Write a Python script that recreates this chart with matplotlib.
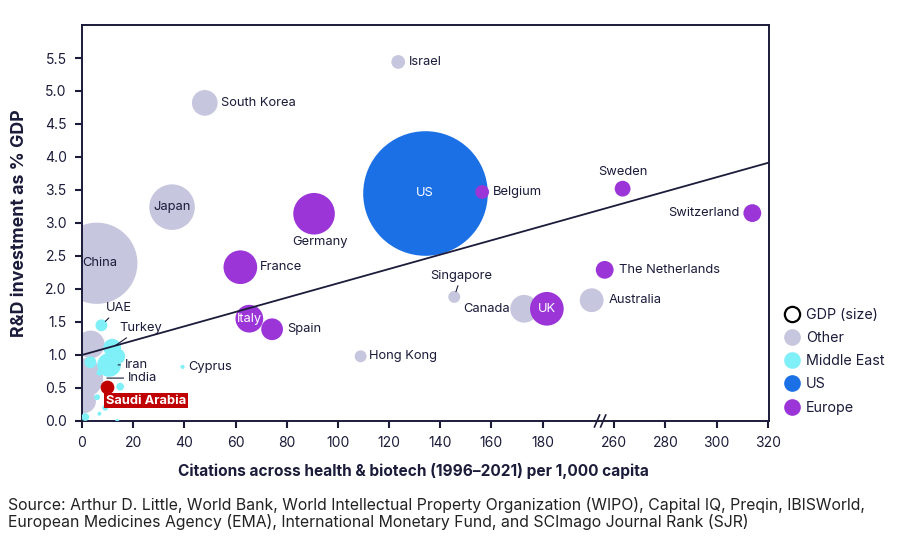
import numpy as np
import matplotlib
matplotlib.use("Agg")
import matplotlib.pyplot as plt
from matplotlib.lines import Line2D

plt.rcParams['font.family'] = ['Inter', 'DejaVu Sans']

# ---- data ----
# citations per 1,000 capita, R&D % of GDP, GDP in $tn (bubble area)
other_names = ['China', 'Japan', 'South Korea', 'Israel', 'Singapore', 'Hong Kong',
               'Canada', 'Australia', 'India', '', '']
other_x = [5.8, 35.2, 48.0, 123.6, 145.5, 108.9, 172.8, 199.2, 0.5, 3.4, 0.8]
other_y = [2.39, 3.24, 4.82, 5.44, 1.88, 0.98, 1.70, 1.83, 0.65, 1.16, 0.30]
other_gdp = [9.77, 3.08, 0.98, 0.28, 0.21, 0.21, 1.14, 0.84, 2.33, 1.14, 0.84]

me_names = ['UAE', 'Turkey', '', 'Iran', '', '', '', '', '', '', '', '', 'Cyprus']
me_x = [7.6, 11.8, 13.8, 10.6, 3.3, 6.8, 14.9, 5.9, 1.3, 6.8, 9.1, 13.8, 39.3]
me_y = [1.45, 1.11, 0.98, 0.85, 0.89, 0.73, 0.52, 0.36, 0.06, 0.11, 0.20, 0.0, 0.82]
me_gdp = [0.21, 0.47, 0.37, 0.84, 0.21, 0.05, 0.09, 0.05, 0.09, 0.023, 0.05, 0.023, 0.025]

saudi_x, saudi_y, saudi_gdp = [9.8], [0.52], [0.28]

us_x, us_y, us_gdp = [133.9], [3.45], [23.0]

eu_names = ['Germany', 'France', 'Belgium', 'Sweden', 'Switzerland',
            'The Netherlands', 'UK', 'Italy', 'Spain']
eu_x = [90.7, 61.9, 156.4, 263.3, 314.0, 256.3, 181.7, 65.4, 74.3]
eu_y = [3.14, 2.33, 3.47, 3.52, 3.15, 2.29, 1.70, 1.55, 1.39]
eu_gdp = [2.56, 1.68, 0.28, 0.37, 0.47, 0.47, 1.68, 1.14, 0.70]

trend_x = [0, 320]
trend_y = [1.0, 3.91]

x_ticks = [0, 20, 40, 60, 80, 100, 120, 140, 160, 180, 260, 280, 300, 320]
y_ticks = [0.0, 0.5, 1.0, 1.5, 2.0, 2.5, 3.0, 3.5, 4.0, 4.5, 5.0, 5.5]

# ---- styling ----
C_OTHER = '#c6c6de'
C_ME = '#80f0f8'
C_US = '#1c70e6'
C_EU = '#9b35d8'
C_SAUDI = '#c00000'
DARK = '#1b1b3a'
SIZE_K = 350.0      # s per $tn
X_SHIFT = 52        # axis break: 260 sits right after 180


def to_plot(x):
    x = np.asarray(x, dtype=float)
    return np.where(x > 230, x - X_SHIFT, x)


fig = plt.figure(figsize=(9, 5.4), dpi=100)
ax = fig.add_axes([0.0911, 0.2204, 0.7633, 0.7333])

ax.scatter(to_plot(other_x), other_y, s=np.array(other_gdp) * SIZE_K, color=C_OTHER,
           linewidths=0, zorder=2)
ax.scatter(to_plot(me_x), me_y, s=np.array(me_gdp) * SIZE_K, color=C_ME,
           linewidths=0, zorder=3)
ax.scatter(to_plot(saudi_x), saudi_y, s=np.array(saudi_gdp) * SIZE_K, color=C_SAUDI,
           linewidths=0, zorder=4)
ax.scatter(to_plot(us_x), us_y, s=np.array(us_gdp) * SIZE_K, color=C_US,
           linewidths=0, zorder=3)
ax.scatter(to_plot(eu_x), eu_y, s=np.array(eu_gdp) * SIZE_K, color=C_EU,
           linewidths=0, zorder=3)

ax.plot(to_plot(trend_x), trend_y, color=DARK, lw=1.3, zorder=5, clip_on=False)

# ---- labels ----
lbl_fs = 9.3
pos = {}
for n, x, y in zip(other_names, other_x, other_y):
    if n:
        pos[n] = (float(to_plot(x)), y)
for n, x, y in zip(me_names, me_x, me_y):
    if n:
        pos[n] = (float(to_plot(x)), y)
for n, x, y in zip(eu_names, eu_x, eu_y):
    pos[n] = (float(to_plot(x)), y)
pos['US'] = (float(to_plot(us_x[0])), us_y[0])
pos['Saudi Arabia'] = (float(to_plot(saudi_x[0])), saudi_y[0])

# name: (dx pt, dy pt, ha, color)
label_spec = {
    'Israel': (8, 0, 'left', DARK),
    'South Korea': (12, 0, 'left', DARK),
    'Japan': (0, 0, 'center', DARK),
    'China': (2, 0, 'center', DARK),
    'US': (0, 0, 'center', 'white'),
    'Germany': (4, -20, 'center', DARK),
    'France': (14, 0, 'left', DARK),
    'Belgium': (8, 0, 'left', DARK),
    'Sweden': (0, 12, 'center', DARK),
    'Switzerland': (-9, 0, 'right', DARK),
    'The Netherlands': (10, 0, 'left', DARK),
    'Australia': (12, 0, 'left', DARK),
    'UK': (0, 0, 'center', 'white'),
    'Canada': (-10, 0, 'right', DARK),
    'Hong Kong': (6, 0, 'left', DARK),
    'Italy': (0, 0, 'center', 'white'),
    'Spain': (11, 0, 'left', DARK),
    'Cyprus': (4, 0, 'left', DARK),
}
for name, (dx, dy, ha, col) in label_spec.items():
    ax.annotate(name, pos[name], xytext=(dx, dy), textcoords='offset points',
                ha=ha, va='center', fontsize=lbl_fs, color=col, zorder=8)

# labels with leader lines (shrinkA: text end, shrinkB: bubble end)
arrow = dict(arrowstyle='-', color=DARK, lw=0.8, shrinkA=1)
ax.annotate('Singapore', pos['Singapore'], xytext=(5, 11), textcoords='offset points',
            ha='center', va='bottom', fontsize=lbl_fs, color=DARK, zorder=8,
            arrowprops=dict(arrow, shrinkB=4))
ax.annotate('UAE', pos['UAE'], xytext=(3, 8), textcoords='offset points',
            ha='left', va='bottom', fontsize=lbl_fs, color=DARK, zorder=8,
            arrowprops=dict(arrow, shrinkB=4))
ax.annotate('Turkey', pos['Turkey'], xytext=(5, 14), textcoords='offset points',
            ha='left', va='center', fontsize=lbl_fs, color=DARK, zorder=8,
            arrowprops=dict(arrow, shrinkB=3))
ax.annotate('Iran', pos['Iran'], xytext=(11, 0), textcoords='offset points',
            ha='left', va='center', fontsize=lbl_fs, color=DARK, zorder=8,
            arrowprops=dict(arrow, shrinkB=6.5))
ax.annotate('India', pos['India'], xytext=(32, 0), textcoords='offset points',
            ha='left', va='center', fontsize=lbl_fs, color=DARK, zorder=8,
            arrowprops=dict(arrow, shrinkB=17))
ax.annotate('Saudi Arabia', pos['Saudi Arabia'], xytext=(-1, -10), textcoords='offset points',
            ha='left', va='center', fontsize=lbl_fs, color='white', fontweight='bold',
            zorder=9, bbox=dict(boxstyle='square,pad=0.15', fc=C_SAUDI, ec='none'))

# ---- axes ----
ax.set_xlim(0, float(to_plot(320)) + 0.5)
ax.set_ylim(0, 6.0)
ax.set_xticks(to_plot(x_ticks))
ax.set_xticklabels([str(t) for t in x_ticks])
ax.set_yticks(y_ticks)
ax.set_yticklabels([f'{t:.1f}' for t in y_ticks])
ax.tick_params(axis='both', direction='out', length=5, width=1.5, color=DARK,
               labelsize=10, labelcolor=DARK, pad=6)
for sp in ax.spines.values():
    sp.set_color(DARK)
    sp.set_linewidth(1.4)

# axis break marks
bx = 202.5
for off in (-1.2, 1.2):
    ax.plot([bx + off - 1.0, bx + off + 1.0], [-0.09, 0.09], color=DARK, lw=1.2,
            clip_on=False, zorder=6)

ax.set_xlabel('Citations across health & biotech (1996\u20132021) per 1,000 capita',
              fontsize=11.1, fontweight='bold', color=DARK, labelpad=9, x=0.483)
ax.set_ylabel('R&D investment as % GDP', fontsize=12.8, fontweight='bold',
              color=DARK, labelpad=12)

# ---- legend ----
handles = [
    Line2D([], [], marker='o', ls='', markersize=11, markerfacecolor='white',
           markeredgecolor='black', markeredgewidth=1.6, label='GDP (size)'),
    Line2D([], [], marker='o', ls='', markersize=12, markerfacecolor=C_OTHER,
           markeredgewidth=0, label='Other'),
    Line2D([], [], marker='o', ls='', markersize=12, markerfacecolor=C_ME,
           markeredgewidth=0, label='Middle East'),
    Line2D([], [], marker='o', ls='', markersize=12, markerfacecolor=C_US,
           markeredgewidth=0, label='US'),
    Line2D([], [], marker='o', ls='', markersize=12, markerfacecolor=C_EU,
           markeredgewidth=0, label='Europe'),
]
leg = ax.legend(handles=handles, loc='upper left', bbox_to_anchor=(1.01, 0.30),
                frameon=False, fontsize=10.3, handletextpad=0.3, labelspacing=0.64,
                borderaxespad=0, handlelength=1.4)
for t in leg.get_texts():
    t.set_color(DARK)

fig.text(0.009, 0.049,
         'Source: Arthur D. Little, World Bank, World Intellectual Property Organization (WIPO), '
         'Capital IQ, Preqin, IBISWorld,\nEuropean Medicines Agency (EMA), International '
         'Monetary Fund, and SCImago Journal Rank (SJR)',
         fontsize=11.4, color='#222222', va='center', ha='left', linespacing=1.13)

fig.savefig('out.png', dpi=100, facecolor='white')
